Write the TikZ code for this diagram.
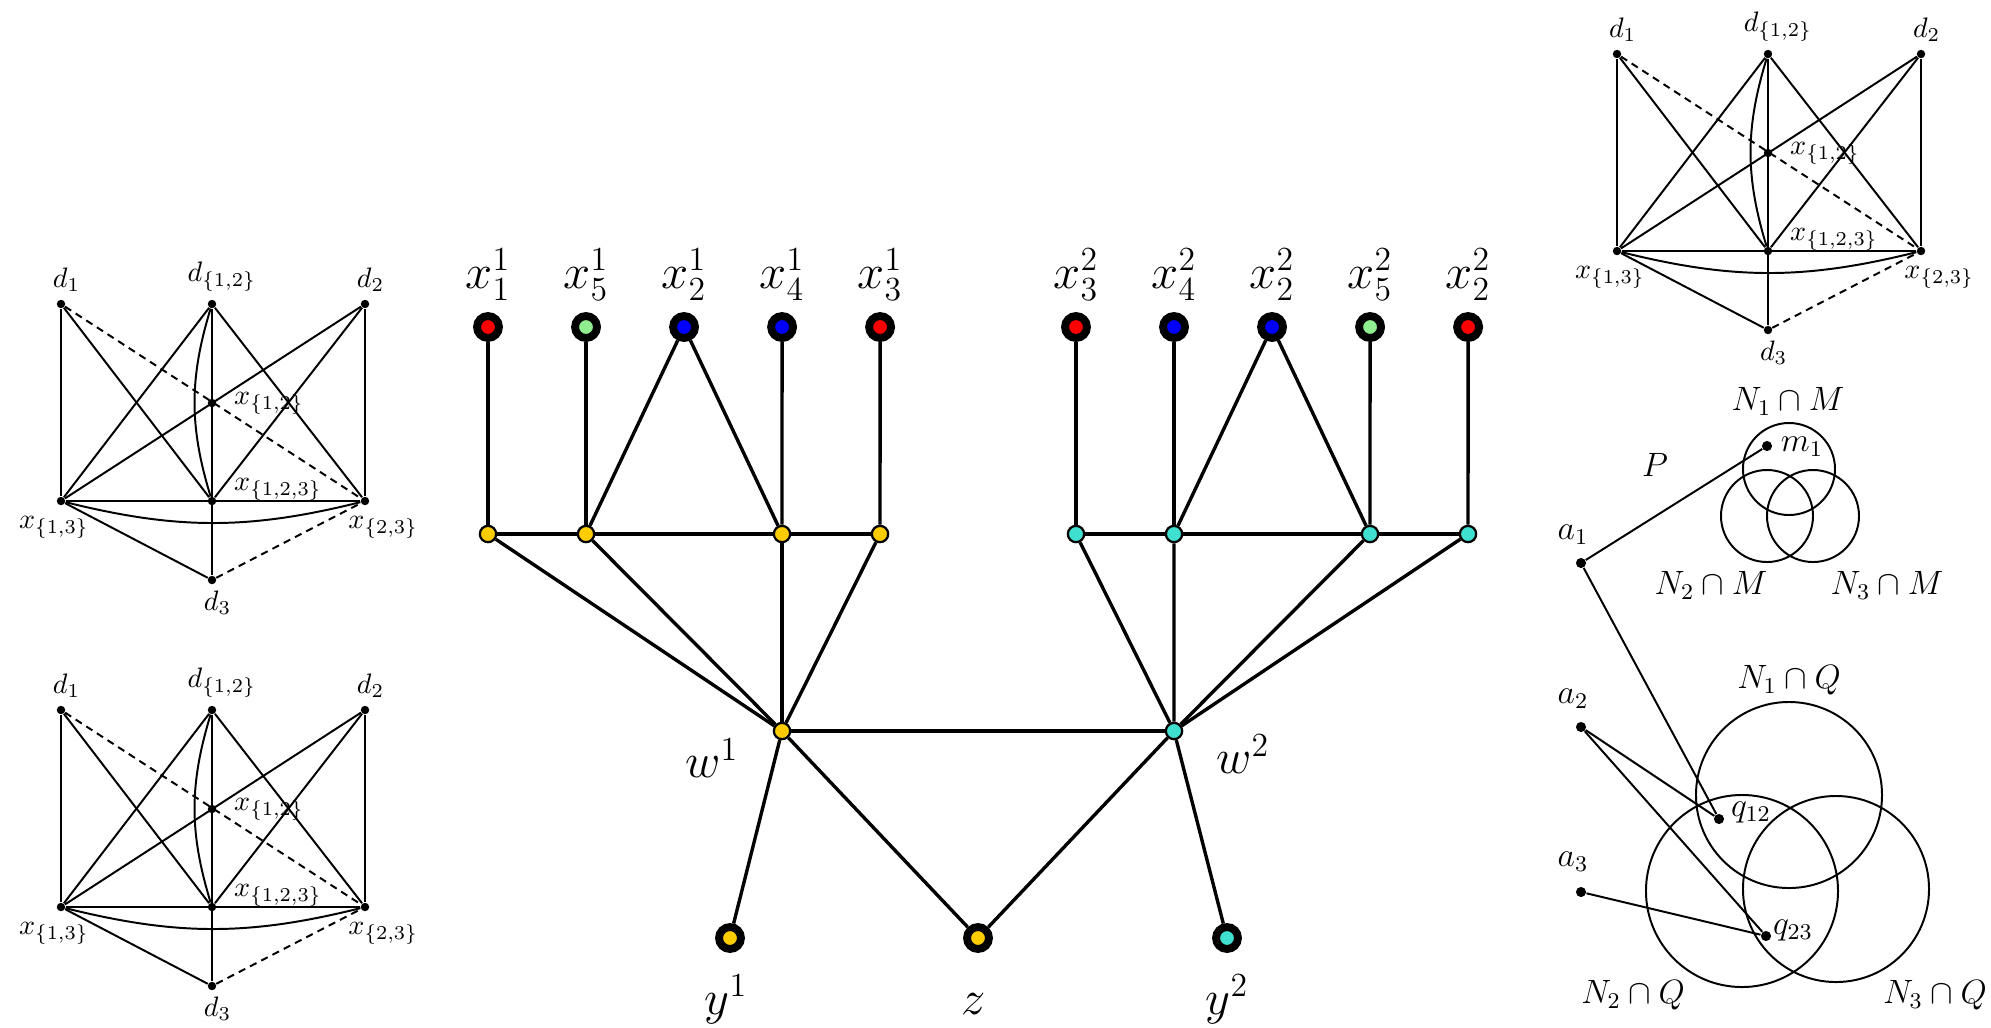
\documentclass[tikz,border=0pt]{standalone}
\usepackage{amssymb}
\usepackage{amsmath}
\usepackage{tikz}
\usetikzlibrary{positioning,shapes,arrows}

\definecolor{wgold}{RGB}{255,204,0}
\definecolor{wturq}{RGB}{64,224,208}
\definecolor{lgreen}{RGB}{144,238,144}

\begin{document}
\begin{tikzpicture}[x=0.0125cm, y=-0.0125cm, node distance=1.225cm]
  \useasboundingbox (0,0) rectangle (1991,1027);

  \tikzset{vert/.style={circle, fill=black, inner sep=0pt, minimum size=3pt}}
  \tikzset{pt/.style={circle, fill=black, inner sep=0pt, minimum size=3.6pt}}
  \tikzset{lbl/.style={inner sep=1pt}}
  \tikzset{mid/.style={inner sep=1pt, font=\large}}
  \tikzset{big/.style={inner sep=2pt, font=\LARGE}}
  \tikzset{colour/.style={circle, draw=black, line width=2.8pt, inner sep=0pt, minimum size=7.8pt}}
  \tikzset{small/.style={circle, draw=black, line width=0.8pt, inner sep=0pt, minimum size=5.8pt}}
  \tikzset{ring/.style={circle, draw=black, line width=0.7pt, inner sep=0pt}}
  \tikzset{tree/.style={line width=1.2pt}}
  \tikzset{gline/.style={line width=0.7pt}}
  \tikzset{dline/.style={line width=0.7pt, dash pattern=on 2.6pt off 1.9pt}}

  % the three small graphs
  \foreach \g/\gx/\gy in {A/61/304, B/61/710, C/1617/54} {
    \begin{scope}[shift={(\gx,\gy)}]
      \node[vert] (\g-d1) at (0,0) {};
      \node[vert] (\g-d12) at (151,0) {};
      \node[vert] (\g-d2) at (304,0) {};
      \node[vert] (\g-x12) at (151,99) {};
      \node[vert] (\g-x13) at (0,197) {};
      \node[vert] (\g-x123) at (151,197) {};
      \node[vert] (\g-x23) at (304,197) {};
      \node[vert] (\g-d3) at (151,276) {};

      \node[lbl, above=1.5pt of \g-d1, xshift=2pt] (\g-ld1) {$d_1$};
      \node[lbl, above=1.5pt of \g-d12, xshift=3.5pt] (\g-ld12) {$d_{\{1,2\}}$};
      \node[lbl, above=1.5pt of \g-d2, xshift=2pt] (\g-ld2) {$d_2$};
      \node[lbl, right=5pt of \g-x12] (\g-lx12) {$x_{\{1,2\}}$};
      \node[lbl, right=5pt of \g-x123, yshift=4pt] (\g-lx123) {$x_{\{1,2,3\}}$};
      \node[lbl, below=2.5pt of \g-x13, xshift=-2.5pt] (\g-lx13) {$x_{\{1,3\}}$};
      \node[lbl, below=2.5pt of \g-x23, xshift=6.5pt] (\g-lx23) {$x_{\{2,3\}}$};
      \node[lbl, below=1pt of \g-d3, xshift=2pt] (\g-ld3) {$d_3$};

      \path[gline] (\g-d1) edge (\g-x13) edge (\g-x123)
                   (\g-d12) edge (\g-x13) edge (\g-d3) edge (\g-x23) edge[bend right=17] (\g-x123)
                   (\g-d2) edge (\g-x13) edge (\g-x123) edge (\g-x23)
                   (\g-x13) edge (\g-x23) edge[bend right=14] (\g-x23) edge (\g-d3);
      \path[dline] (\g-d1) edge (\g-x23)
                   (\g-d3) edge (\g-x23);
    \end{scope}
  }

  % colour classes
  \node[colour, fill=red]    (x11) at (488,327) {};
  \node[colour, fill=lgreen] (x15) [right of=x11] {};
  \node[colour, fill=blue]   (x12) [right of=x15] {};
  \node[colour, fill=blue]   (x14) [right of=x12] {};
  \node[colour, fill=red]    (x13) [right of=x14] {};
  \node[colour, fill=red]    (x23) at (1076,327) {};
  \node[colour, fill=blue]   (x24) [right of=x23] {};
  \node[colour, fill=blue]   (x22) [right of=x24] {};
  \node[colour, fill=lgreen] (x25) [right of=x22] {};
  \node[colour, fill=red]    (x22b) [right of=x25] {};

  \node[big, above=2pt of x11] (lx11) {$x^1_1$};
  \node[big, above=2pt of x15] (lx15) {$x^1_5$};
  \node[big, above=2pt of x12] (lx12) {$x^1_2$};
  \node[big, above=2pt of x14] (lx14) {$x^1_4$};
  \node[big, above=2pt of x13] (lx13) {$x^1_3$};
  \node[big, above=2pt of x23] (lx23) {$x^2_3$};
  \node[big, above=2pt of x24] (lx24) {$x^2_4$};
  \node[big, above=2pt of x22] (lx22) {$x^2_2$};
  \node[big, above=2pt of x25] (lx25) {$x^2_5$};
  \node[big, above=2pt of x22b] (lx22b) {$x^2_2$};

  \node[small, fill=wgold] (s11) at (488,534) {};
  \node[small, fill=wgold] (s12) [right of=s11] {};
  \node[small, fill=wgold] (s13) at (782,534) {};
  \node[small, fill=wgold] (s14) [right of=s13] {};
  \node[small, fill=wturq] (s21) at (1076,534) {};
  \node[small, fill=wturq] (s22) [right of=s21] {};
  \node[small, fill=wturq] (s23) at (1370,534) {};
  \node[small, fill=wturq] (s24) [right of=s23] {};

  \node[small, fill=wgold] (w1) at (782,731) {};
  \node[small, fill=wturq] (w2) at (1174,731) {};
  \node[colour, fill=wgold] (y1) at (730,938) {};
  \node[colour, fill=wgold] (z) at (978,938) {};
  \node[colour, fill=wturq] (y2) at (1227,938) {};

  \node[big] (lw1) at (712,758) {$w^1$};
  \node[big] (lw2) at (1243,754) {$w^2$};
  \node[big, anchor=base] (ly1) at (726,1014) {$y^1$};
  \node[big, anchor=base] (lz) at (974,1014) {$z$};
  \node[big, anchor=base] (ly2) at (1227,1014) {$y^2$};

  \path[tree] (x11) edge (s11)
              (x15) edge (s12)
              (x12) edge (s12) edge (s13)
              (x14) edge (s13)
              (x13) edge (s14)
              (s11) edge (s12) (s12) edge (s13) (s13) edge (s14)
              (s11) edge (w1) (s12) edge (w1) (s13) edge (w1) (s14) edge (w1);
  \path[tree] (x23) edge (s21)
              (x24) edge (s22)
              (x22) edge (s22) edge (s23)
              (x25) edge (s23)
              (x22b) edge (s24)
              (s21) edge (s22) (s22) edge (s23) (s23) edge (s24)
              (s21) edge (w2) (s22) edge (w2) (s23) edge (w2) (s24) edge (w2);
  \path[tree] (w1) edge (w2) edge (y1) edge (z)
              (w2) edge (z) edge (y2);

  % intersections with M and Q
  \node[ring, minimum size=1.15cm] (NM1) at (1789,469) {};
  \node[ring, minimum size=1.15cm] (NM2) at (1767,516) {};
  \node[ring, minimum size=1.15cm] (NM3) at (1813,516) {};
  \node[ring, minimum size=2.325cm] (NQ1) at (1789,795) {};
  \node[ring, minimum size=2.4cm] (NQ2) at (1742,891) {};
  \node[ring, minimum size=2.325cm] (NQ3) at (1836,889) {};

  \node[pt] (mpt) at (1767,446) {};
  \node[pt] (q12) at (1719,819) {};
  \node[pt] (q23) at (1766,936) {};
  \node[pt] (a1) at (1581,563) {};
  \node[pt] (a2) at (1581,727) {};
  \node[pt] (a3) at (1581,892) {};

  \node[mid] (lNM1) at (1788,401) {$N_1\cap M$};
  \node[mid] (lNM2) at (1711,585) {$N_2\cap M$};
  \node[mid] (lNM3) at (1887,585) {$N_3\cap M$};
  \node[mid] (lP) at (1655,465) {$P$};
  \node[mid] (lm1) at (1802,447) {$m_1$};
  \node[mid] (la1) at (1573,535) {$a_1$};
  \node[mid] (lNQ1) at (1789,680) {$N_1\cap Q$};
  \node[mid] (la2) at (1573,699) {$a_2$};
  \node[mid] (la3) at (1573,862) {$a_3$};
  \node[mid] (lq12) at (1751,812) {$q_{12}$};
  \node[mid] (lq23) at (1793,930) {$q_{23}$};
  \node[mid] (lNQ2) at (1633,995) {$N_2\cap Q$};
  \node[mid] (lNQ3) at (1935,995) {$N_3\cap Q$};

  \path[gline] (a1) edge (mpt) edge (q12)
               (a2) edge (q12) edge (q23)
               (a3) edge (q23);
\end{tikzpicture}
\end{document}
